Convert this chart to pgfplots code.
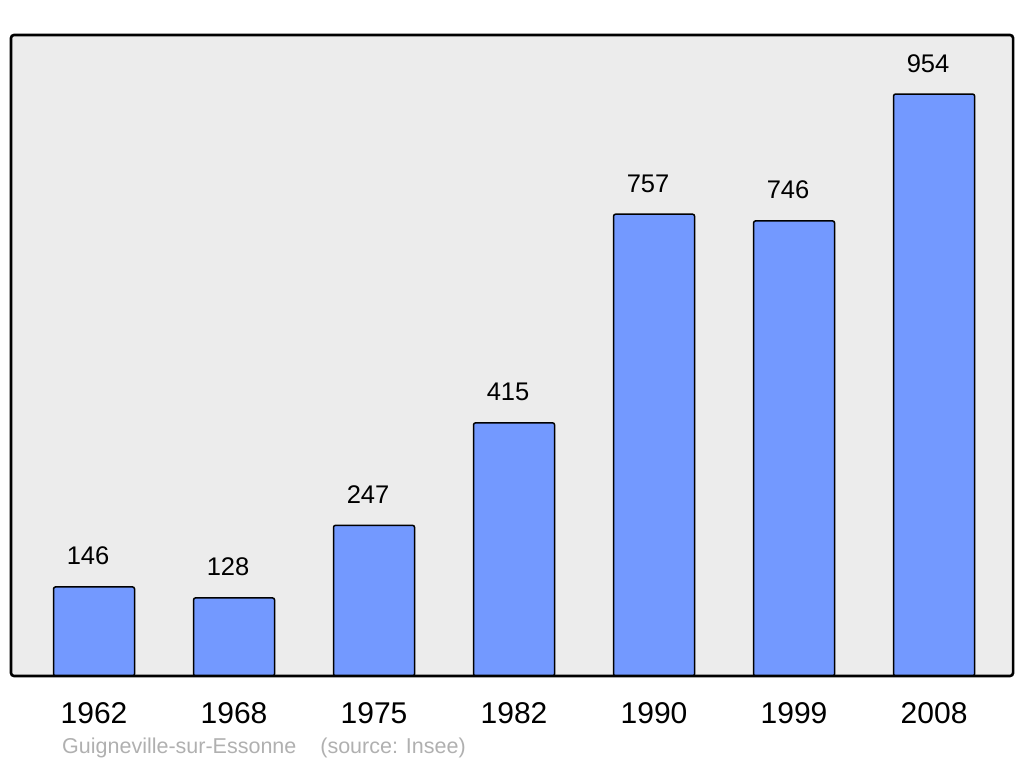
\documentclass[border=0pt]{standalone}
\usepackage{pgfplots}
\pgfplotsset{compat=1.18}
\usepackage{fontspec}
\setmainfont{Liberation Sans}
\definecolor{barblue}{RGB}{115,153,255}
\definecolor{bggray}{RGB}{236,236,236}
\definecolor{srcgray}{RGB}{176,176,176}
\begin{document}
\begin{tikzpicture}
\path (0,0) rectangle (1024bp,765bp);
\begin{axis}[
  at={(11bp,89bp)}, anchor=south west,
  scale only axis, width=1002bp, height=641bp,
  xmin=-0.593, xmax=6.564, ymin=0, ymax=1050.8,
  axis lines=none,
  clip=false,
  ybar, bar width=81bp,
  xtick=data,
  xticklabels={1962,1968,1975,1982,1990,1999,2008},
  ytick=\empty,
  /pgf/number format/assume math mode=true,
  nodes near coords,
  every node near coord/.append style={font=\fontsize{25.5bp}{25.5bp}\selectfont, inner sep=0pt, anchor=base, yshift=22bp, xshift=-6bp, text=black},
]
\fill[bggray, rounded corners=3bp] (rel axis cs:0,0) rectangle (rel axis cs:1,1);
\addplot[fill=barblue, draw=black, line width=1.5bp, rounded corners=2bp] coordinates {
  (0,146) (1,128) (2,247) (3,415) (4,757) (5,746) (6,954)
};
\draw[black, line width=2.6bp, rounded corners=3bp] (rel axis cs:0,0) rectangle (rel axis cs:1,1);
\foreach \i/\y in {0/1962,1/1968,2/1975,3/1982,4/1990,5/1999,6/2008}{
  \edef\tmp{\noexpand\node[anchor=base, inner sep=0pt, font=\noexpand\fontsize{30bp}{30bp}\noexpand\selectfont] at (axis cs:\i,0) [yshift=-47bp] {\y};}
  \tmp
}
\end{axis}
\node[anchor=base west, inner sep=0pt, text=srcgray, font=\fontsize{21.5bp}{21.5bp}\selectfont] at (62bp,12bp) {Guigneville-sur-Essonne\hspace{24bp}(source: Insee)};
\end{tikzpicture}
\end{document}
